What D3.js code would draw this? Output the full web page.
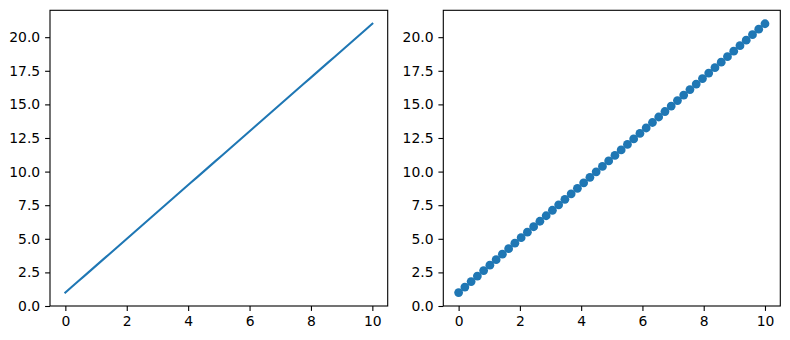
<!DOCTYPE html>
<html><head><meta charset="utf-8">
<script src="https://cdn.jsdelivr.net/npm/d3@7"></script>
<style>body{margin:0;background:#fff;} text{font-family:"DejaVu Sans",sans-serif;}</style>
</head><body>
<svg id="c" width="790" height="340"></svg>
<script>
const xValues = [0, 0.20408, 0.40816, 0.61224, 0.81633, 1.02041, 1.22449, 1.42857, 1.63265, 1.83673,
  2.04082, 2.2449, 2.44898, 2.65306, 2.85714, 3.06122, 3.26531, 3.46939, 3.67347, 3.87755,
  4.08163, 4.28571, 4.4898, 4.69388, 4.89796, 5.10204, 5.30612, 5.5102, 5.71429, 5.91837,
  6.12245, 6.32653, 6.53061, 6.73469, 6.93878, 7.14286, 7.34694, 7.55102, 7.7551, 7.95918,
  8.16327, 8.36735, 8.57143, 8.77551, 8.97959, 9.18367, 9.38776, 9.59184, 9.79592, 10];
const yValues = [1, 1.408, 1.816, 2.224, 2.633, 3.041, 3.449, 3.857, 4.265, 4.673,
  5.082, 5.490, 5.898, 6.306, 6.714, 7.122, 7.531, 7.939, 8.347, 8.755,
  9.163, 9.571, 9.980, 10.388, 10.796, 11.204, 11.612, 12.020, 12.429, 12.837,
  13.245, 13.653, 14.061, 14.469, 14.878, 15.286, 15.694, 16.102, 16.510, 16.918,
  17.327, 17.735, 18.143, 18.551, 18.959, 19.367, 19.776, 20.184, 20.592, 21];
const xTicks = [0, 2, 4, 6, 8, 10];
const yTicks = [0, 2.5, 5, 7.5, 10, 12.5, 15, 17.5, 20];

(function () {
const svg = d3.select("#c");
const color = "#1f77b4";
const panels = [
  {left: 50, right: 387.7, mode: "line"},
  {left: 443.3, right: 780.3, mode: "marker"}
];
const plotTop = 10.3, plotBottom = 306;
const data = xValues.map((x, i) => ({x, y: yValues[i]}));

panels.forEach(p => {
  const x = d3.scaleLinear().domain([-0.5, 10.5]).range([p.left, p.right]);
  const y = d3.scaleLinear().domain([0, 22]).range([plotBottom, plotTop]);
  const g = svg.append("g");
  const clipId = "clip" + p.mode;
  g.append("clipPath").attr("id", clipId).append("rect")
    .attr("x", p.left).attr("y", plotTop).attr("width", p.right - p.left).attr("height", plotBottom - plotTop);

  const xAxis = g.append("g").attr("transform", `translate(0,${plotBottom})`)
    .call(d3.axisBottom(x).tickValues(xTicks).tickSize(4.9).tickPadding(4.9).tickFormat(d3.format("d")));
  const yAxis = g.append("g").attr("transform", `translate(${p.left},0)`)
    .call(d3.axisLeft(y).tickValues(yTicks).tickSize(4.9).tickPadding(4.9).tickFormat(d3.format(".1f")));
  [xAxis, yAxis].forEach(a => {
    a.select(".domain").remove();
    a.selectAll("line").attr("stroke", "#000").attr("stroke-width", 1.1);
    a.selectAll("text").attr("font-size", 13.9).attr("fill", "#000").attr("font-family", "DejaVu Sans");
  });

  const dg = g.append("g").attr("clip-path", `url(#${clipId})`);
  if (p.mode === "line") {
    dg.append("path").datum(data)
      .attr("d", d3.line().x(d => x(d.x)).y(d => y(d.y)))
      .attr("fill", "none").attr("stroke", color).attr("stroke-width", 2.08)
      .attr("stroke-linecap", "square");
  } else {
    dg.selectAll("circle").data(data).join("circle")
      .attr("cx", d => x(d.x)).attr("cy", d => y(d.y)).attr("r", 4.4)
      .attr("fill", color);
  }
  g.append("rect").attr("x", p.left).attr("y", plotTop)
    .attr("width", p.right - p.left).attr("height", plotBottom - plotTop)
    .attr("fill", "none").attr("stroke", "#000").attr("stroke-width", 1.1);
});
})();
</script>
</body></html>
